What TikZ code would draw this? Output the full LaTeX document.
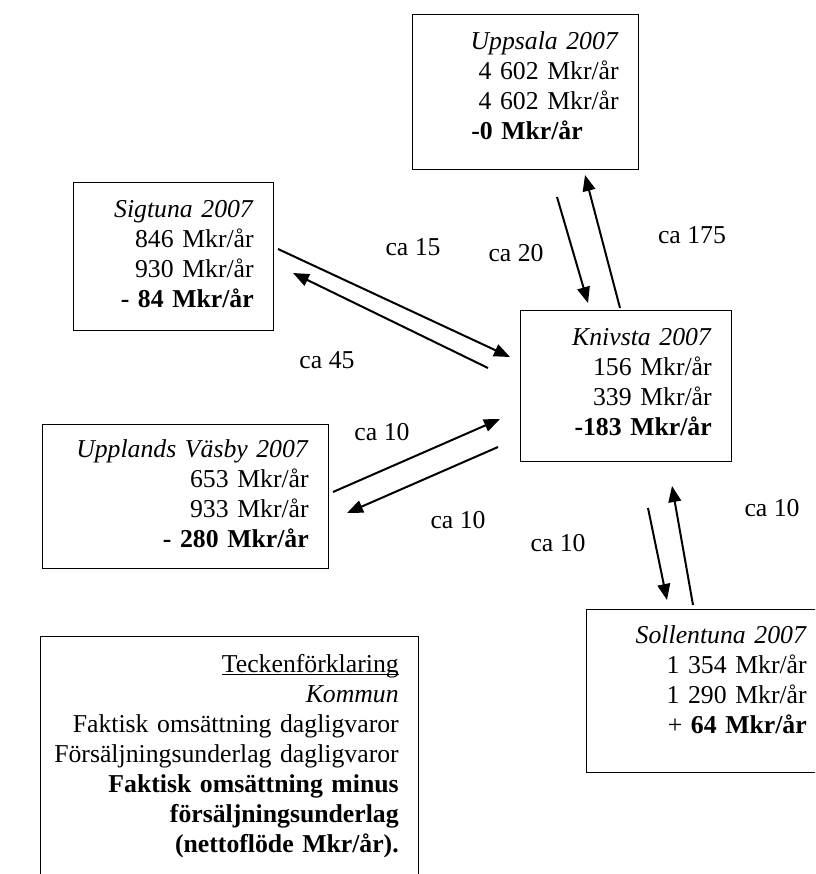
\documentclass[tikz,border=0pt]{standalone}
\usepackage{fontspec}
\setmainfont{Liberation Serif}
\usetikzlibrary{arrows.meta}

\tikzset{
  kommun/.style={draw, line width=1.1pt, anchor=north west, align=right,
    inner xsep=15pt, inner ysep=0pt, font=\fontsize{19.3}{22.5}\selectfont},
  flow/.style={->, line width=1.5pt},
  ca/.style={font=\fontsize{19.3}{22.5}\selectfont, inner sep=0pt},
}

\begin{document}
\begin{tikzpicture}[x=0.75pt, y=-0.75pt, >={Triangle[length=12pt, width=9.5pt]}]
  \useasboundingbox (0,0) rectangle (815,874);
  \clip (0,0) rectangle (815,874);
  % Kommuner
  \node[kommun, text width=139.5pt, text height=26.25pt, text depth=90pt] (uppsala) at (412,14)
    {\textit{Uppsala 2007}\\ 4 602 Mkr/år\\ 4 602 Mkr/år\\ \textbf{-0 Mkr/år}\kern27pt};
  \node[kommun, text width=120pt, text height=26.25pt, text depth=84.75pt] (sigtuna) at (73,182)
    {\textit{Sigtuna 2007}\\ 846 Mkr/år\\ 930 Mkr/år\\ \textbf{- 84 Mkr/år}};
  \node[kommun, text width=128.25pt, text height=26.25pt, text depth=87pt] (knivsta) at (520,310)
    {\textit{Knivsta 2007}\\ 156 Mkr/år\\ 339 Mkr/år\\ \textbf{-183 Mkr/år}};
  \node[kommun, text width=184.5pt, text height=24.75pt, text depth=83.25pt] (vasby) at (42,424)
    {\textit{Upplands Väsby 2007}\\ 653 Mkr/år\\ 933 Mkr/år\\ \textbf{- 280 Mkr/år}};
  \node[kommun, text width=150pt, text height=25.5pt, text depth=96.75pt] (sollentuna) at (586,609)
    {\textit{Sollentuna 2007}\\ 1 354 Mkr/år\\ 1 290 Mkr/år\\ + \textbf{64 Mkr/år}};
  % Teckenförklaring
  \node[kommun, text width=253.5pt, text height=27pt, text depth=171pt] (legend) at (40,636)
    {\underline{\smash{Teckenförklaring}}\\ \textit{Kommun}\\
     Faktisk omsättning dagligvaror\\
     \makebox[\linewidth][r]{Försäljningsunderlag dagligvaror}\\
     \textbf{Faktisk omsättning minus}\\ \textbf{försäljningsunderlag}\\
     \textbf{(nettoflöde Mkr/år).}};

  % Flöden
  \coordinate (sk1) at (278,249); \coordinate (sk2) at (510,357);
  \coordinate (ks1) at (488,368); \coordinate (ks2) at (293,273);
  \coordinate (uk1) at (557,197); \coordinate (uk2) at (588,303);
  \coordinate (ku1) at (620,308); \coordinate (ku2) at (585,175);
  \coordinate (vk1) at (333,492); \coordinate (vk2) at (500,419);
  \coordinate (kv1) at (498,447); \coordinate (kv2) at (347,513);
  \coordinate (kl1) at (648,508); \coordinate (kl2) at (667,600);
  \coordinate (lk1) at (693,605); \coordinate (lk2) at (672,486);
  \draw[flow] (sk1) -- (sk2);
  \draw[flow] (ks1) -- (ks2);
  \draw[flow] (uk1) -- (uk2);
  \draw[flow] (ku1) -- (ku2);
  \draw[flow] (vk1) -- (vk2);
  \draw[flow] (kv1) -- (kv2);
  \draw[flow] (kl1) -- (kl2);
  \draw[flow] (lk1) -- (lk2);

  % Etiketter
  \node[ca] (ca15) at (413,247) {ca 15};
  \node[ca] (ca45) at (327,360) {ca 45};
  \node[ca] (ca20) at (516,253) {ca 20};
  \node[ca] (ca175) at (692,235) {ca 175};
  \node[ca] (ca10a) at (382,432) {ca 10};
  \node[ca] (ca10b) at (458,520) {ca 10};
  \node[ca] (ca10c) at (558,543) {ca 10};
  \node[ca] (ca10d) at (772,508) {ca 10};
\end{tikzpicture}
\end{document}
